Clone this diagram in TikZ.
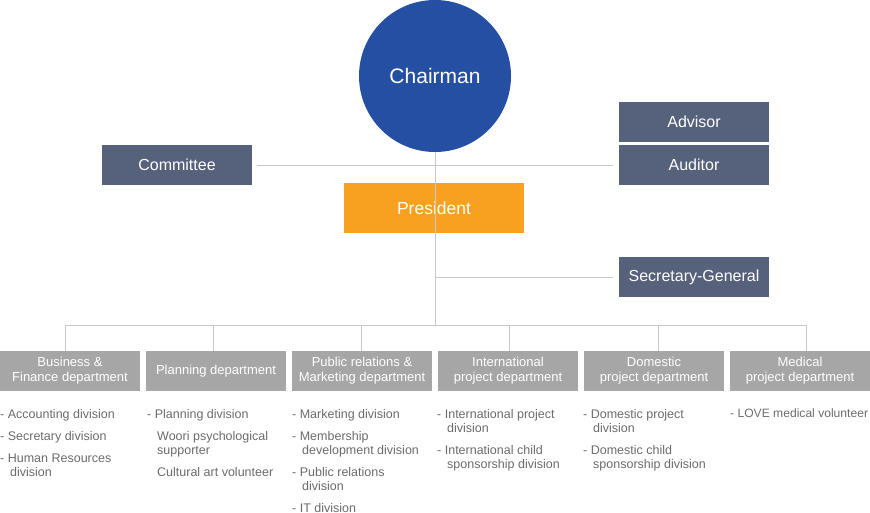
\documentclass[tikz,border=0pt]{standalone}
\usepackage{fontspec}
\setmainfont{Liberation Sans}
\usepackage{tikz}

\definecolor{chairblue}{HTML}{244FA3}
\definecolor{presorange}{HTML}{F8A01F}
\definecolor{slate}{HTML}{56617B}
\definecolor{deptgrey}{HTML}{A6A6A6}
\definecolor{linegrey}{HTML}{C8C8C8}
\definecolor{listgrey}{HTML}{6B6B6B}

\tikzset{
  topbox/.style={fill=slate, text=white, minimum width=150pt, minimum height=40pt, inner sep=0pt, font=\fontsize{16}{18}\selectfont},
  deptbox/.style={fill=deptgrey, text=white, minimum width=140pt, minimum height=40pt, inner sep=0pt, align=center, font=\fontsize{13}{15}\selectfont},
  divlist/.style={anchor=north west, inner sep=0pt, align=left, text=listgrey, font=\fontsize{12.5}{14}\selectfont},
  orgline/.style={draw=linegrey, line width=1pt}
}
\newcommand{\cont}{\hspace*{10pt}}

\begin{document}
\begin{tikzpicture}[x=1pt, y=-1pt]
\useasboundingbox (0,0) rectangle (870,513);

\node[circle, fill=chairblue, text=white, minimum size=152pt, inner sep=0pt, font=\fontsize{21}{24}\selectfont] (chair) at (435,76) {Chairman};
\node[topbox] (committee) at (177,165) {Committee};
\node[topbox] (advisor) at (694,122) {Advisor};
\node[topbox] (auditor) at (694,165) {Auditor};
\node[fill=presorange, text=white, minimum width=180pt, minimum height=50pt, inner sep=0pt, font=\fontsize{17.5}{20}\selectfont] (president) at (434,208) {President};
\node[topbox] (secgen) at (694,277) {Secretary-General};

\node[deptbox] (d1) at (70,371) {Business \&\\Finance department};
\node[deptbox] (d2) at (216,371) {Planning department};
\node[deptbox] (d3) at (362,371) {Public relations \&\\Marketing department};
\node[deptbox] (d4) at (508,371) {International\\project department};
\node[deptbox] (d5) at (654,371) {Domestic\\project department};
\node[deptbox] (d6) at (800,371) {Medical\\project department};

\coordinate (hub) at (435,325);
\coordinate (midrow) at (435,166);
\coordinate (secrow) at (435,277);
\foreach \i/\x in {1/65,2/213,3/361.5,4/509.5,5/658,6/806}
  \coordinate (b\i) at (\x,325);

% staff lines
\draw[orgline] (chair.south) -- (hub);
\draw[orgline] ([xshift=5pt]committee.east |- midrow) -- ([xshift=-6pt]auditor.west |- midrow);
\draw[orgline] (secrow) -- ([xshift=-6pt]secgen.west);

% department bus
\draw[orgline] (b1) -- (b6);
\foreach \i in {1,...,6}
  \draw[orgline] (b\i) -- (b\i |- d\i.north);

% divisions
\node[divlist] (l1) at (0,409) {- Accounting division\\[8pt]- Secretary division\\[8pt]- Human Resources\\\cont division};
\node[divlist] (l2) at (147,409) {- Planning division\\[8pt]\cont Woori psychological\\\cont supporter\\[8pt]\cont Cultural art volunteer};
\node[divlist] (l3) at (292,409) {- Marketing division\\[8pt]- Membership\\\cont development division\\[8pt]- Public relations\\\cont division\\[8pt]- IT division};
\node[divlist] (l4) at (437,409) {- International project\\\cont division\\[8pt]- International child\\\cont sponsorship division};
\node[divlist] (l5) at (583,409) {- Domestic project\\\cont division\\[8pt]- Domestic child\\\cont sponsorship division};
\node[divlist, font=\fontsize{12.1}{14}\selectfont] (l6) at (730,409) {- LOVE medical volunteer};
\end{tikzpicture}
\end{document}
